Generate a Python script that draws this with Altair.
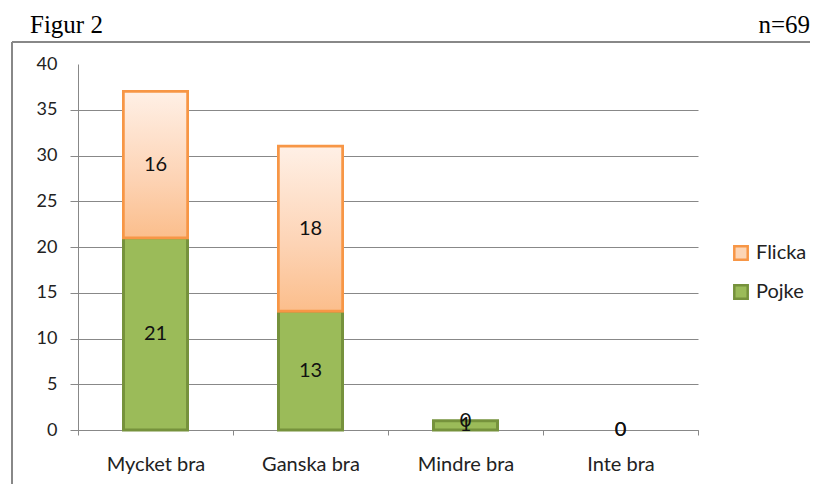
import altair as alt
import pandas as pd

categories = ["Mycket bra", "Ganska bra", "Mindre bra", "Inte bra"]
pojke = [21, 13, 1, 0]
flicka = [16, 18, 0, 0]
series = ["Flicka", "Pojke"]
y_ticks = [0, 5, 10, 15, 20, 25, 30, 35, 40]

rows = []
for c, p, f in zip(categories, pojke, flicka):
    rows.append({"cat": c, "series": "Pojke", "value": p, "start": 0, "end": p, "mid": p / 2})
    rows.append({"cat": c, "series": "Flicka", "value": f, "start": p, "end": p + f, "mid": p + f / 2})
df = pd.DataFrame(rows)

FONT = "Lato"

x_enc = alt.X("cat:N", sort=categories, title=None,
              scale=alt.Scale(paddingInner=0, paddingOuter=0),
              axis=alt.Axis(labelAngle=0, labelFontSize=20, labelFont=FONT, labelColor="#222",
                            labelPadding=19, tickBand="extent", tickSize=5, tickColor="#888",
                            domainColor="#888", domainWidth=1))
y_scale = alt.Scale(domain=[0, 40], nice=False)
y_axis = alt.Axis(values=y_ticks, title=None, labelFontSize=18, labelFont=FONT, labelColor="#222",
                  labelPadding=13, tickSize=8, tickColor="#888", domainColor="#888",
                  gridColor="#888", gridWidth=1,
                  gridOpacity={"condition": {"test": "datum.value === 40", "value": 0}, "value": 1},
                  tickOpacity={"condition": {"test": "datum.value === 40", "value": 0}, "value": 1})

legend_cfg = dict(title=None, orient="none", legendX=653, legendY=179,
                  symbolType="square", symbolSize=180, symbolStrokeWidth=2.5,
                  labelFontSize=20, labelFont=FONT, labelColor="#222",
                  rowPadding=15, labelOffset=5)

base = alt.Chart(df)

bars = base.transform_filter("datum.value > 0").mark_bar(width=64, strokeWidth=3).encode(
    x=x_enc,
    y=alt.Y("start:Q", scale=y_scale, axis=y_axis),
    y2="end:Q",
    color=alt.Color("series:N", scale=alt.Scale(domain=series, range=["#FCD5B5", "#9BBB59"]),
                    legend=alt.Legend(**legend_cfg)),
    stroke=alt.Stroke("series:N", scale=alt.Scale(domain=series, range=["#F79646", "#76923C"]),
                      legend=alt.Legend(**legend_cfg)),
)

grad = alt.LinearGradient(gradient="linear",
                          stops=[alt.GradientStop(color="#FFF0E6", offset=0),
                                 alt.GradientStop(color="#FDD3B4", offset=0.6),
                                 alt.GradientStop(color="#FBBE8C", offset=1)],
                          x1=0, x2=0, y1=0, y2=1)

flicka_bars = base.transform_filter("datum.series === 'Flicka' && datum.value > 0").mark_bar(
    width=64, fill=grad, stroke="#F79646", strokeWidth=2.5).encode(
    x=alt.X("cat:N", sort=categories),
    y=alt.Y("start:Q", scale=y_scale),
    y2="end:Q",
)

labels = base.mark_text(fontSize=20, font=FONT, color="#111").encode(
    x=alt.X("cat:N", sort=categories),
    y=alt.Y("mid:Q", scale=y_scale),
    text="value:Q",
)

title_df = pd.DataFrame({"t": ["Figur 2"]})
n_df = pd.DataFrame({"t": ["n=69"]})

title_txt = alt.Chart(title_df).mark_text(font="Liberation Serif", fontSize=25, align="left",
                                          baseline="alphabetic", color="#000").encode(
    x=alt.value(-48), y=alt.value(-31), text="t:N")
n_txt = alt.Chart(n_df).mark_text(font="Liberation Serif", fontSize=25, align="right",
                                  baseline="alphabetic", color="#000").encode(
    x=alt.value(732), y=alt.value(-31), text="t:N")

top_line = alt.Chart(title_df).mark_rule(color="#888", strokeWidth=2).encode(
    x=alt.value(-66), x2=alt.value(740), y=alt.value(-22))
left_line = alt.Chart(title_df).mark_rule(color="#888", strokeWidth=2).encode(
    x=alt.value(-66), y=alt.value(-22), y2=alt.value(420))

chart = alt.layer(bars, flicka_bars, labels, title_txt, n_txt, top_line, left_line).properties(
    width=620, height=366,
    autosize=alt.AutoSizeParams(type="none"),
    padding={"left": 70, "top": 56, "right": 112, "bottom": 54},
).configure_view(stroke=None).resolve_scale(x="shared")

chart.save("out.html", embed_options={"renderer": "svg", "actions": False})
